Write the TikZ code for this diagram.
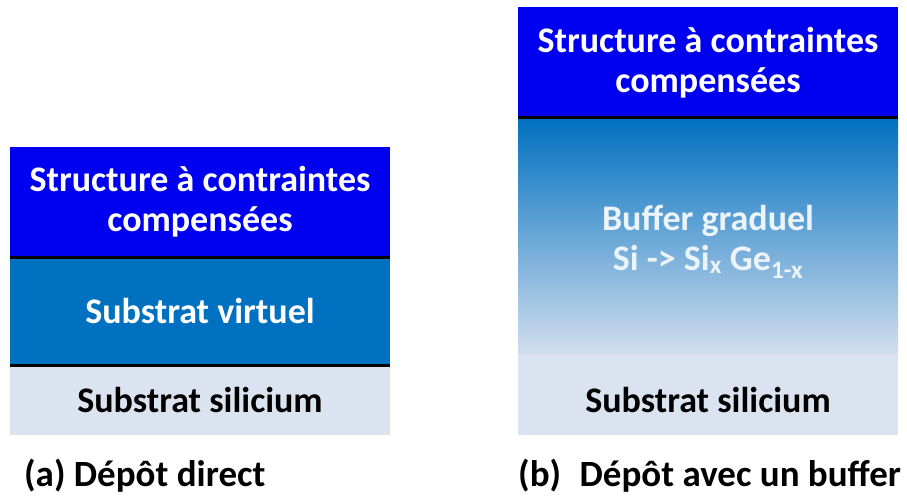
\documentclass[tikz,border=0pt]{standalone}
\usepackage{fontspec}
\setmainfont{Carlito}
\usetikzlibrary{positioning}

\definecolor{strucblue}{RGB}{0,0,240}
\definecolor{virtblue}{RGB}{0,112,192}
\definecolor{siliblue}{RGB}{220,227,240}

\tikzset{
    layer/.style={minimum width=380pt, inner sep=0pt, outer sep=0pt, align=center,
        font=\fontsize{36}{40}\selectfont\bfseries},
    sep/.style={line width=3pt, black},
    caption/.style={anchor=base west, inner sep=0pt, font=\fontsize{37}{40}\selectfont\bfseries}
}

\begin{document}
\begin{tikzpicture}[x=1pt, y=-1pt]
    \useasboundingbox (0,0) rectangle (907,497);

    % (a) direct
    \node[layer, fill=strucblue, text=white, minimum height=110pt, anchor=north] (strucA) at (200,147)
        {Structure à contraintes\\compensées};
    \node[layer, fill=virtblue, text=white, minimum height=108pt, below=0pt of strucA] (virtA)
        {Substrat virtuel};
    \node[layer, fill=siliblue, text=black, minimum height=70pt, below=0pt of virtA] (siliA)
        {Substrat silicium};
    \draw[sep] (strucA.south west) -- (strucA.south east);
    \draw[sep] (virtA.south west) -- (virtA.south east);

    % (b) buffer
    \node[layer, fill=strucblue, text=white, minimum height=111pt, anchor=north] (strucB) at (708,7)
        {Structure à contraintes\\compensées};
    \node[layer, fill=siliblue, text=white!92!virtblue, minimum height=247pt, below=0pt of strucB,
        path picture={\shade[top color=virtblue, bottom color=siliblue]
            (path picture bounding box.north west) rectangle ([yshift=12pt]path picture bounding box.south east);}] (bufB)
        {Buffer graduel\\Si -> Si\textsubscript{x} Ge\textsubscript{1-x}};
    \node[layer, fill=siliblue, text=black, minimum height=70pt, below=0pt of bufB] (siliB)
        {Substrat silicium};
    \draw[sep] (strucB.south west) -- (strucB.south east);

    % captions
    \node[caption] (capA) at (24,486) {(a) Dépôt direct};
    \node[caption] (capB) at (518,486) {(b)\hspace{0.5em}Dépôt avec un buffer};
\end{tikzpicture}
\end{document}
